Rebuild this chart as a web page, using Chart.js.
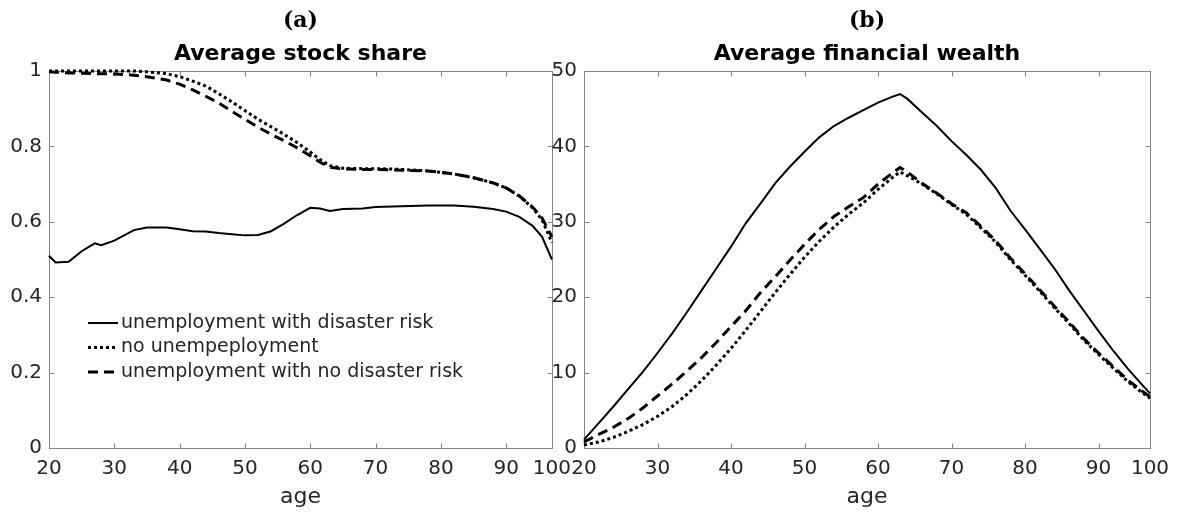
<!DOCTYPE html>
<html lang="en">
<head>
  <meta charset="UTF-8" />
  <title>Average stock share and financial wealth</title>
  <style>
    body { margin: 0; background: #fff; width: 1180px; height: 516px; position: relative; overflow: hidden; }
    #shareChart { position: absolute; left: 0; top: 0; }
    #wealthChart { position: absolute; left: 540px; top: 0; }
  </style>
</head>
<body>

  <canvas id="shareChart" width="580" height="516"></canvas>
  <canvas id="wealthChart" width="640" height="516"></canvas>

  <script src="https://cdn.jsdelivr.net/npm/chart.js"></script>
  <script>
    // series names (legend text kept as in the original figure)
    const seriesNames = ['unemployment with disaster risk', 'no unempeployment', 'unemployment with no disaster risk'];

    // x axis: the plotted range ends at 97, labelled "100" as in the figure
    const xTickValues = [20, 30, 40, 50, 60, 70, 80, 90, 97];
    const xTickLabels = ['20', '30', '40', '50', '60', '70', '80', '90', '100'];

    const shareTicks = [0, 0.2, 0.4, 0.6, 0.8, 1];
    const shareTickLabels = ['0', '0.2', '0.4', '0.6', '0.8', '1'];
    const wealthTicks = [0, 10, 20, 30, 40, 50];
    const wealthTickLabels = ['0', '10', '20', '30', '40', '50'];

    // (a) average stock share
    const shareAges = [20, 21, 23, 25, 27, 28, 30, 33, 35, 38, 40, 42, 44, 46, 48, 50, 52, 54, 56, 58,
                       60, 61.5, 63, 65, 68, 70, 74, 78, 82, 85, 88, 90, 92, 94, 95.5, 97];
    const shareDisaster = [0.510, 0.492, 0.494, 0.522, 0.543, 0.538, 0.550, 0.578, 0.585, 0.585, 0.580, 0.575,
                           0.574, 0.570, 0.567, 0.564, 0.565, 0.575, 0.595, 0.618, 0.637, 0.635, 0.629, 0.634,
                           0.635, 0.639, 0.641, 0.643, 0.643, 0.640, 0.634, 0.627, 0.613, 0.590, 0.560, 0.500];
    const shareNoUnemp = [1.0, 1.0, 1.0, 1.0, 1.0, 1.0, 1.0, 1.0, 0.998, 0.993, 0.985, 0.973, 0.960, 0.940,
                          0.918, 0.895, 0.872, 0.852, 0.832, 0.810, 0.785, 0.765, 0.749, 0.742, 0.741, 0.741,
                          0.739, 0.735, 0.727, 0.717, 0.703, 0.690, 0.668, 0.638, 0.605, 0.545];
    const shareNoDisaster = [0.998, 0.997, 0.995, 0.994, 0.993, 0.993, 0.992, 0.989, 0.985, 0.976, 0.965, 0.950,
                             0.933, 0.915, 0.893, 0.872, 0.851, 0.832, 0.815, 0.796, 0.775, 0.758, 0.745, 0.740,
                             0.739, 0.739, 0.737, 0.735, 0.727, 0.717, 0.703, 0.690, 0.669, 0.640, 0.610, 0.560];

    // (b) average financial wealth
    const wealthAges = [20, 22, 24, 26, 28, 30, 32, 34, 36, 38, 40, 42, 44, 46, 48, 50, 52, 54, 56, 58, 60,
                        62, 63, 64, 66, 68, 70, 72, 74, 76, 78, 80, 82, 84, 86, 88, 90, 92, 94, 96, 97];
    const wealthDisaster = [1.1, 3.3, 5.5, 7.8, 10.1, 12.6, 15.2, 18.0, 20.9, 23.8, 26.7, 29.8, 32.4, 35.1,
                            37.3, 39.3, 41.2, 42.7, 43.8, 44.8, 45.8, 46.6, 46.95, 46.3, 44.5, 42.7, 40.7,
                            38.9, 36.9, 34.5, 31.5, 29.0, 26.4, 23.8, 20.9, 18.2, 15.5, 12.9, 10.5, 8.3, 7.25];
    const wealthNoUnemp = [0.4, 0.8, 1.4, 2.2, 3.1, 4.2, 5.5, 7.1, 8.95, 11.0, 13.2, 15.6, 18.1, 20.6, 23.0,
                           25.3, 27.4, 29.3, 31.0, 32.5, 34.3, 35.9, 36.6, 36.1, 35.0, 33.7, 32.3, 31.0, 29.2,
                           27.3, 25.0, 22.9, 20.8, 18.6, 16.5, 14.3, 12.4, 10.6, 8.8, 7.3, 6.6];
    const wealthNoDisaster = [0.8, 1.8, 2.75, 3.9, 5.3, 6.9, 8.5, 10.2, 12.0, 14.0, 16.1, 18.2, 20.6, 22.7,
                              24.9, 27.0, 29.0, 30.7, 32.0, 33.2, 35.0, 36.5, 37.2, 36.6, 35.1, 33.8, 32.4,
                              31.2, 29.4, 27.5, 25.2, 23.1, 21.0, 18.8, 16.7, 14.5, 12.6, 10.8, 9.0, 7.5, 6.8];

    // line styles: solid, dotted, dashed
    const lineStyles = [
      { borderWidth: 2, borderDash: [] },
      { borderWidth: 3, borderDash: [3, 3] },
      { borderWidth: 3, borderDash: [10, 6] }
    ];

    const textColor = '#262626';
    const frameColor = '#858585';

    Chart.defaults.font.family = '"DejaVu Sans", sans-serif';
    Chart.defaults.color = textColor;

    const toPoints = (ages, vals) => ages.map((a, i) => ({ x: a, y: vals[i] }));

    // box around the axes with inward ticks
    const framePlugin = {
      id: 'frame',
      beforeDatasetsDraw(chart) {
        const { ctx, chartArea: a, scales: { x, y } } = chart;
        const L = Math.round(a.left) + 0.5, R = Math.round(a.right) + 0.5;
        const T = Math.round(a.top) + 0.5, B = Math.round(a.bottom) + 0.5;
        ctx.save();
        ctx.strokeStyle = frameColor;
        ctx.lineWidth = 1;
        ctx.strokeRect(L, T, R - L, B - T);
        ctx.beginPath();
        x.ticks.forEach(t => {
          const px = Math.round(x.getPixelForValue(t.value)) + 0.5;
          ctx.moveTo(px, B); ctx.lineTo(px, B - 5);
          ctx.moveTo(px, T); ctx.lineTo(px, T + 5);
        });
        y.ticks.forEach(t => {
          const py = Math.round(y.getPixelForValue(t.value)) + 0.5;
          ctx.moveTo(L, py); ctx.lineTo(L + 5, py);
          ctx.moveTo(R, py); ctx.lineTo(R - 5, py);
        });
        ctx.stroke();
        ctx.restore();
      }
    };

    // legend drawn inside the left panel
    const insideLegend = {
      id: 'insideLegend',
      afterDatasetsDraw(chart, args, opts) {
        if (!opts.show) return;
        const { ctx, chartArea: a } = chart;
        const x0 = a.left + 39, y0 = 323;
        chart.data.datasets.forEach((ds, i) => {
          const yy = y0 + i * 24.5;
          ctx.save();
          ctx.strokeStyle = ds.borderColor;
          ctx.lineWidth = ds.borderWidth;
          ctx.setLineDash(ds.borderDash);
          ctx.beginPath();
          ctx.moveTo(x0, yy);
          ctx.lineTo(x0 + 30, yy);
          ctx.stroke();
          ctx.setLineDash([]);
          ctx.fillStyle = textColor;
          ctx.font = '19px "DejaVu Sans"';
          ctx.textBaseline = 'middle';
          ctx.fillText(ds.label, x0 + 33, yy);
          ctx.restore();
        });
      }
    };

    function makeChart(id, cfg) {
      const datasets = cfg.series.map((vals, i) => ({
        label: seriesNames[i],
        data: toPoints(cfg.ages, vals),
        borderColor: '#000',
        borderWidth: lineStyles[i].borderWidth,
        borderDash: lineStyles[i].borderDash,
        borderCapStyle: 'butt',
        pointRadius: 0,
        tension: 0,
        clip: 6
      }));

      return new Chart(document.getElementById(id), {
        type: 'line',
        data: { datasets },
        plugins: [framePlugin, insideLegend],
        options: {
          responsive: false,
          animation: false,
          devicePixelRatio: 1,
          layout: { padding: { left: 0, right: cfg.padRight, top: 0, bottom: 0 } },
          plugins: {
            legend: { display: false },
            tooltip: { enabled: false },
            insideLegend: { show: cfg.legend },
            title: {
              display: true,
              text: cfg.letter,
              fullSize: false,
              color: '#000',
              font: { family: '"DejaVu Serif", serif', size: 22, weight: 'bold', lineHeight: 1.2 },
              padding: { top: 8, bottom: 7 }
            },
            subtitle: {
              display: true,
              text: cfg.title,
              fullSize: false,
              color: '#000',
              font: { size: 22, weight: 'bold', lineHeight: 1.2 },
              padding: { top: 0, bottom: 3.2 }
            }
          },
          scales: {
            x: {
              type: 'linear',
              min: 20,
              max: 97,
              grid: { display: false, drawTicks: false },
              border: { display: false },
              afterBuildTicks: s => { s.ticks = xTickValues.map(v => ({ value: v })); },
              afterFit: s => { s.height = 68; },
              ticks: {
                padding: 9,
                maxRotation: 0,
                font: { size: 20 },
                callback: (v, i) => xTickLabels[i]
              },
              title: {
                display: true,
                text: 'age',
                color: textColor,
                font: { size: 22 },
                padding: { top: 0, bottom: 6 }
              }
            },
            y: {
              min: 0,
              max: cfg.yTicks[cfg.yTicks.length - 1],
              grid: { display: false, drawTicks: false },
              border: { display: false },
              afterBuildTicks: s => { s.ticks = cfg.yTicks.map(v => ({ value: v })); },
              afterFit: s => { s.width = cfg.yWidth; },
              ticks: {
                padding: 7,
                font: { size: 20 },
                callback: (v, i) => cfg.yLabels[i]
              }
            }
          }
        }
      });
    }

    makeChart('shareChart', {
      letter: '(a)',
      title: 'Average stock share',
      ages: shareAges,
      series: [shareDisaster, shareNoUnemp, shareNoDisaster],
      yTicks: shareTicks,
      yLabels: shareTickLabels,
      yWidth: 49,
      padRight: 22,
      legend: true
    });

    makeChart('wealthChart', {
      letter: '(b)',
      title: 'Average financial wealth',
      ages: wealthAges,
      series: [wealthDisaster, wealthNoUnemp, wealthNoDisaster],
      yTicks: wealthTicks,
      yLabels: wealthTickLabels,
      yWidth: 44,
      padRight: 30,
      legend: false
    });
  </script>
</body>
</html>
